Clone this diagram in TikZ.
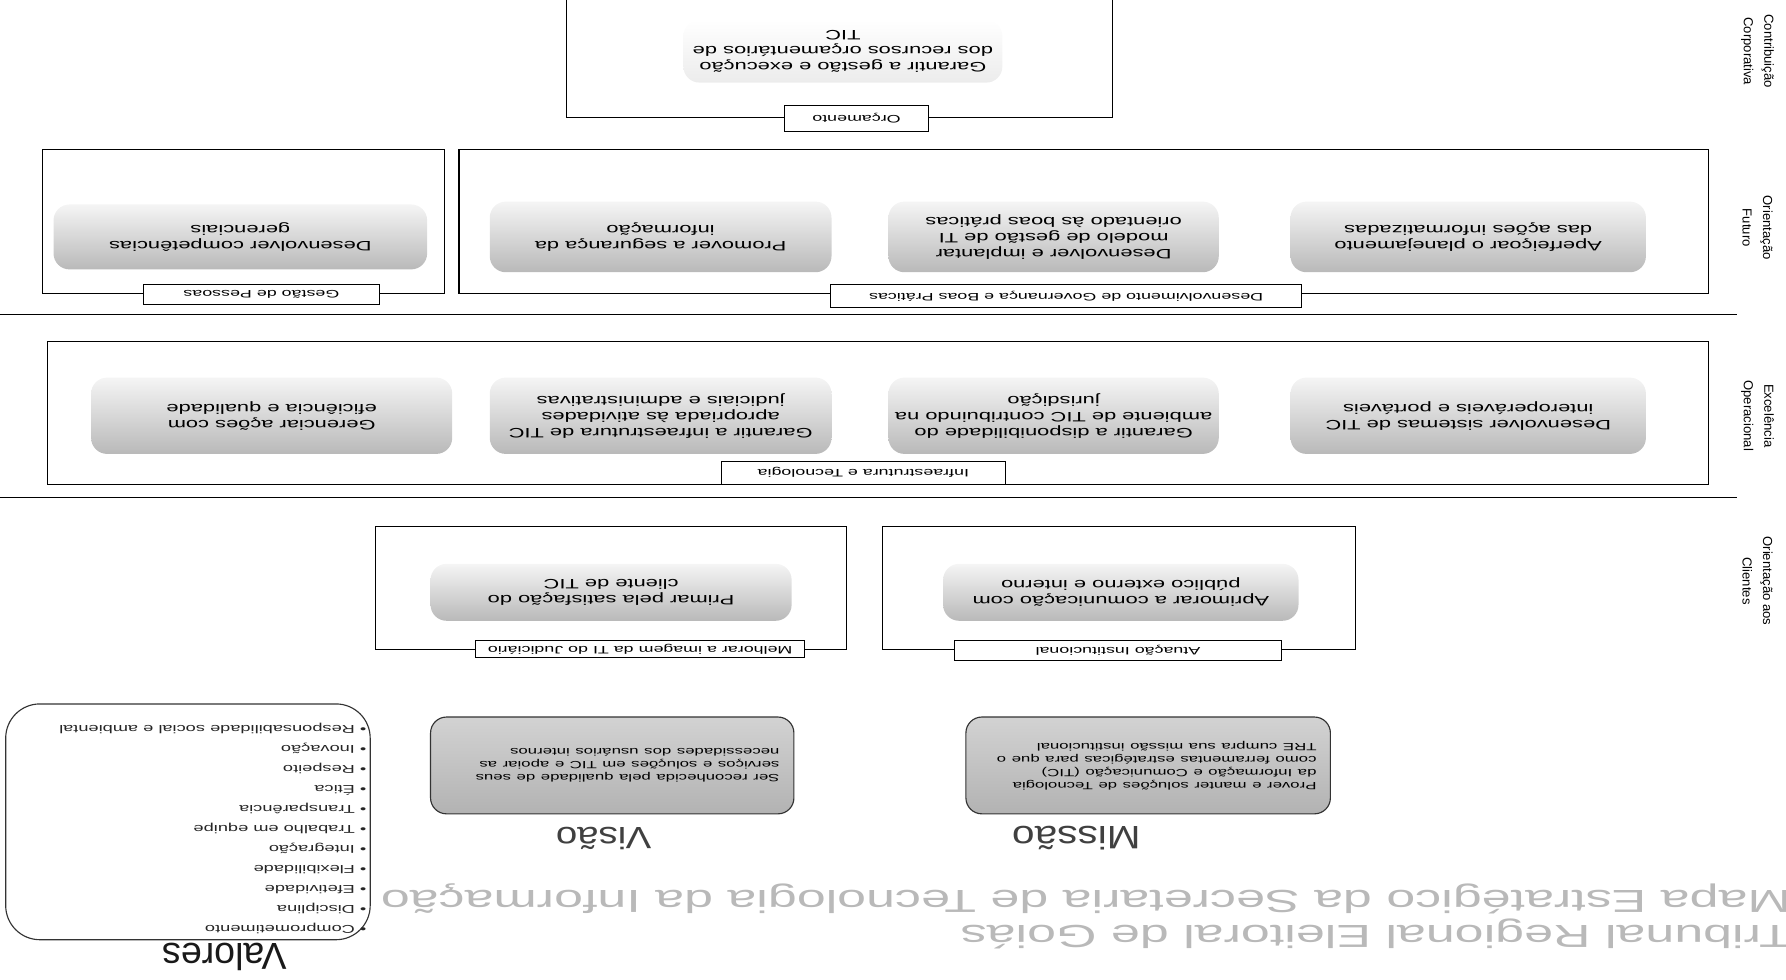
\documentclass[tikz,border=0pt]{standalone}
\usepackage{fontspec}
\setmainfont{Liberation Sans}
\usetikzlibrary{positioning}

\tikzset{
  flip/.style={rotate=180},
  frame/.style={draw, line width=1pt, inner sep=0pt},
  tag/.style={flip, draw, fill=white, line width=0.8pt, inner sep=1pt,
    font=\fontsize{9.5}{10}\selectfont, xscale=1.65},
  pill/.style={flip, rounded corners=14pt, top color=gray!8, bottom color=gray!55,
    align=center, inner sep=2pt, font=\fontsize{12}{14}\selectfont, xscale=1.6},
  darkpill/.style={flip, rounded corners=14pt, draw=gray!40!black, line width=1pt,
    top color=gray!35, bottom color=gray!60, align=left, inner sep=2pt,
    font=\fontsize{9.2}{11.5}\selectfont, xscale=1.6},
  side/.style={rotate=-90, align=center, font=\fontsize{11.5}{18}\selectfont},
  heading/.style={flip, text=gray!50!black, font=\fontsize{27}{30}\selectfont, xscale=1.25},
  maptitle/.style={flip, text=gray!55, font=\fontsize{28}{30}\selectfont, xscale=1.63, anchor=west}
}

\begin{document}
\begin{tikzpicture}[x=1pt, y=-1pt]
  \useasboundingbox (0,0) rectangle (1568,860);

  % Contribuicao Corporativa
  \node[frame, minimum width=480, minimum height=108] (fOrc) at (737,49) {};
  \node[pill, top color=white, bottom color=gray!15, minimum width=280/1.6, minimum height=55]
    (pOrc) at (740,45) {Garantir a gestão e execução\\dos recursos orçamentários de\\TIC};
  \node[tag, minimum width=126/1.65, minimum height=22] (tOrc) at (752,104) {Orçamento};

  % Orientacao Futuro
  \node[frame, minimum width=353, minimum height=127] (fPes) at (213.5,194.5) {};
  \node[pill, minimum width=328/1.6, minimum height=57] (pPes) at (211,208)
    {Desenvolver competências\\gerenciais};
  \node[tag, minimum width=207/1.65, minimum height=17] (tPes) at (229.5,258.5) {Gestão de Pessoas};

  \node[frame, minimum width=1097, minimum height=127] (fGov) at (951.5,194.5) {};
  \node[pill, minimum width=300/1.6, minimum height=62] (pSeg) at (580,208)
    {Promover a segurança da\\informação};
  \node[pill, minimum width=290/1.6, minimum height=62] (pMod) at (925,208)
    {Desenvolver e implantar\\modelo de gestão de TI\\orientado às boas práticas};
  \node[pill, minimum width=312/1.6, minimum height=62] (pPla) at (1289,208)
    {Aperfeiçoar o planejamento\\das ações informatizadas};
  \node[tag, minimum width=414/1.65, minimum height=20] (tGov) at (936,260)
    {Desenvolvimento de Governança e Boas Práticas};

  \draw[line width=1pt] (0,276) -- (1525,276);

  % Excelencia Operacional
  \node[frame, minimum width=1458, minimum height=125] (fInf) at (771,362.5) {};
  \node[pill, minimum width=317/1.6, minimum height=67] (pAco) at (238.5,365)
    {Gerenciar ações com\\eficiência e qualidade};
  \node[pill, minimum width=300/1.6, minimum height=67] (pInf) at (580,365)
    {Garantir a infraestrutura de TIC\\apropriada às atividades\\judiciais e administrativas};
  \node[pill, minimum width=290/1.6, minimum height=67] (pDis) at (925,365)
    {Garantir a disponibilidade do\\ambiente de TIC contribuindo na\\jurisdição};
  \node[pill, minimum width=312/1.6, minimum height=67] (pSis) at (1289,365)
    {Desenvolver sistemas de TIC\\interoperáveis e portáveis};
  \node[tag, minimum width=249/1.65, minimum height=20] (tInf) at (758,415)
    {Infraestrutura e Tecnologia};

  \draw[line width=1pt] (0,437) -- (1525,437);

  % Orientacao aos Clientes
  \node[frame, minimum width=413, minimum height=108] (fIma) at (536.5,516) {};
  \node[pill, minimum width=317/1.6, minimum height=50] (pCli) at (536.5,520)
    {Primar pela satisfação do\\cliente de TIC};
  \node[tag, minimum width=289/1.65, minimum height=15] (tIma) at (562,570)
    {Melhorar a imagem da TI do Judiciário};

  \node[frame, minimum width=415, minimum height=108] (fAtu) at (982.5,516) {};
  \node[pill, minimum width=312/1.6, minimum height=50] (pCom) at (984,520)
    {Aprimorar a comunicação com\\público externo e interno};
  \node[tag, minimum width=287/1.65, minimum height=17] (tAtu) at (981.5,571)
    {Atuação Institucional};

  % perspectivas
  \node[side] (sCor) at (1543,45) {Contribuição\\Corporativa};
  \node[side] (sFut) at (1543,200) {Orientação\\Futuro};
  \node[side] (sOpe) at (1543,365) {Excelência\\Operacional};
  \node[side] (sCli) at (1543,510) {Orientação aos\\Clientes};

  % missao, visao, valores
  \node[darkpill, minimum width=319/1.6, minimum height=85, text width=300/1.6-4] (pVis) at (537.5,672)
    {Ser reconhecida pela qualidade de seus\\serviços e soluções em TIC e apoiar as\\necessidades dos usuários internos};
  \node[heading] (hVis) at (530,736) {Visão};
  \node[darkpill, minimum width=320/1.6, minimum height=85, text width=302/1.6-4] (pMis) at (1008,672)
    {Prover e manter soluções de Tecnologia\\da Informação e Comunicação (TIC)\\como ferramentas estratégicas para que o\\TRE cumpra sua missão institucional};
  \node[heading, font=\fontsize{28.5}{30}\selectfont] (hMis) at (945,736) {Missão};

  \draw[gray!40!black, line width=1pt, rounded corners=30pt] (5,618) rectangle (325,825);
  \node[flip, anchor=north west, inner sep=0pt, align=left, text=gray!30!black,
    font=\fontsize{10}{17.6}\selectfont, xscale=1.6] (lVal) at (322,820)
    {• Comprometimento\\• Disciplina\\• Efetividade\\• Flexibilidade\\• Integração\\%
     • Trabalho em equipe\\• Transparência\\• Ética\\• Respeito\\• Inovação\\%
     • Responsabilidade social e ambiental};
  \node[flip, font=\fontsize{33}{36}\selectfont, text=gray!20!black] (hVal) at (197,840) {Valores};

  % titulo
  \node[maptitle] (tMapa) at (1578,789) {Mapa Estratégico da Secretaria de Tecnologia da Informação};
  \node[maptitle] (tTre) at (1578,820) {Tribunal Regional Eleitoral de Goiás};
\end{tikzpicture}
\end{document}
